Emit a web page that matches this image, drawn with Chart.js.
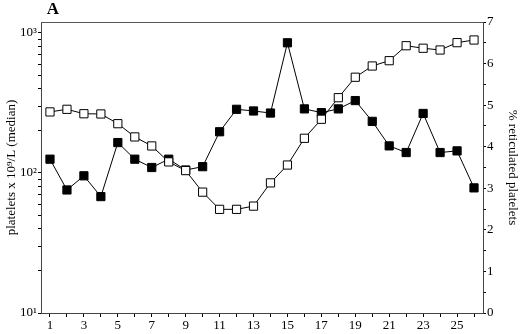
<!DOCTYPE html>
<html>
<head>
<meta charset="utf-8">
<script src="https://cdn.jsdelivr.net/npm/chart.js@4.4.1/dist/chart.umd.min.js"></script>
<style>
  html, body { margin: 0; padding: 0; background: #fff; }
  #wrap { width: 520px; height: 334px; }
</style>
</head>
<body>
<div id="wrap"><canvas id="plateletChart"></canvas></div>
<script>
// days of follow-up
const days = [1, 2, 3, 4, 5, 6, 7, 8, 9, 10, 11, 12, 13, 14, 15, 16, 17, 18, 19, 20, 21, 22, 23, 24, 25, 26];
// platelets x 10^9/L (median), left log axis, open squares
const platelets = [273, 285, 265, 264, 225, 181, 156, 120, 104, 73, 55, 55, 58, 85, 114, 177, 242, 345, 483, 581, 634, 811, 778, 756, 853, 891];
// % reticulated platelets, right axis, filled squares
const reticulated = [3.70, 2.96, 3.30, 2.80, 4.10, 3.70, 3.50, 3.70, 3.44, 3.52, 4.36, 4.90, 4.86, 4.81, 6.50, 4.91, 4.82, 4.91, 5.11, 4.61, 4.02, 3.86, 4.80, 3.86, 3.90, 3.01];
// tick positions
const logTicks = [10, 20, 30, 40, 50, 60, 70, 80, 90, 100, 200, 300, 400, 500, 600, 700, 800, 900, 1000];
const logLabels = { 10: '10\u00b9', 100: '10\u00b2', 1000: '10\u00b3' };
const pctTicks = [0, 0.5, 1, 1.5, 2, 2.5, 3, 3.5, 4, 4.5, 5, 5.5, 6, 6.5, 7];

const serif = 'Liberation Serif';

const frame = {
    id: 'frame',
    afterDraw(chart) {
        const a = chart.chartArea;
        const c = chart.ctx;
        c.save();
        c.strokeStyle = '#555';
        c.lineWidth = 1;
        c.beginPath();
        c.moveTo(a.left, a.top + 0.5);
        c.lineTo(a.right, a.top + 0.5);
        c.stroke();
        c.fillStyle = '#000';
        c.font = 'bold 17px "' + serif + '"';
        c.textAlign = 'center';
        c.textBaseline = 'middle';
        c.fillText('A', a.left + 12, a.top - 12);
        c.restore();
    }
};

const ctx = document.getElementById('plateletChart').getContext('2d');
new Chart(ctx, {
    type: 'line',
    data: {
        datasets: [{
            label: 'platelets',
            data: days.map((d, i) => ({ x: d, y: platelets[i] })),
            yAxisID: 'yLeft',
            borderColor: '#000',
            borderWidth: 1,
            pointStyle: 'rect',
            pointRadius: 5.8,
            pointBorderWidth: 1,
            pointBorderColor: '#000',
            pointBackgroundColor: '#fff',
            tension: 0
        }, {
            label: '% reticulated',
            data: days.map((d, i) => ({ x: d, y: reticulated[i] })),
            yAxisID: 'yRight',
            borderColor: '#000',
            borderWidth: 1,
            pointStyle: 'rect',
            pointRadius: 5.8,
            pointBorderWidth: 1,
            pointBorderColor: '#000',
            pointBackgroundColor: '#000',
            tension: 0
        }]
    },
    options: {
        responsive: true,
        maintainAspectRatio: false,
        animation: false,
        layout: { padding: { top: 22, left: 0, right: 0, bottom: 0 } },
        plugins: {
            legend: { display: false },
            tooltip: { enabled: false }
        },
        scales: {
            x: {
                type: 'linear',
                min: 0.47,
                max: 26.53,
                afterBuildTicks: s => { s.ticks = days.map(v => ({ value: v })); },
                afterFit: s => { s.height = 21; },
                grid: { drawOnChartArea: false, tickLength: 4, color: '#000' },
                border: { color: '#444', width: 1 },
                ticks: {
                    autoSkip: false,
                    maxRotation: 0,
                    padding: 1,
                    color: '#000',
                    font: { family: serif, size: 13 },
                    callback: v => (v % 2 === 1 ? String(v) : '')
                }
            },
            yLeft: {
                type: 'logarithmic',
                position: 'left',
                min: 10,
                max: 1198,
                afterBuildTicks: s => { s.ticks = logTicks.map(v => ({ value: v })); },
                afterFit: s => { s.width = 41; },
                grid: { drawOnChartArea: false, tickLength: 3, color: '#000' },
                border: { color: '#444', width: 1 },
                ticks: {
                    autoSkip: false,
                    padding: 1,
                    color: '#000',
                    font: { family: serif, size: 13 },
                    callback: v => logLabels[v] || ''
                },
                title: {
                    display: true,
                    text: 'platelets x 10\u2079/L (median)',
                    color: '#000',
                    font: { family: serif, size: 13 },
                    padding: { top: 4, bottom: 0 }
                }
            },
            yRight: {
                type: 'linear',
                position: 'right',
                min: 0,
                max: 7,
                afterBuildTicks: s => { s.ticks = pctTicks.map(v => ({ value: v })); },
                afterFit: s => { s.width = 37; },
                grid: { drawOnChartArea: false, tickLength: 3, color: '#000' },
                border: { color: '#444', width: 1 },
                ticks: {
                    autoSkip: false,
                    padding: 1,
                    color: '#000',
                    font: { family: serif, size: 13 },
                    callback: v => (Number.isInteger(v) ? String(v) : '')
                },
                title: {
                    display: true,
                    text: '% reticulated platelets',
                    color: '#000',
                    font: { family: serif, size: 13 },
                    padding: { top: 0, bottom: 0 }
                }
            }
        }
    },
    plugins: [frame]
});
</script>
</body>
</html>
